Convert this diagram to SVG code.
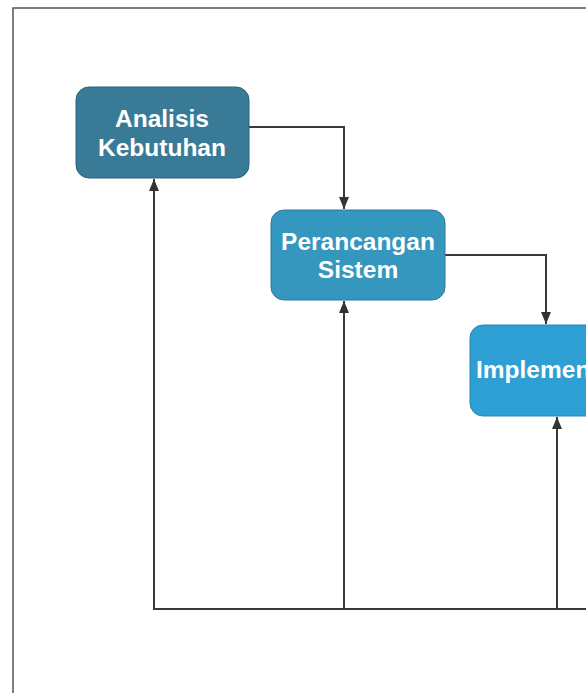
<svg xmlns="http://www.w3.org/2000/svg" width="586" height="693" viewBox="0 0 586 693">
<defs>
<marker id="ah" viewBox="0 0 12 10" refX="12" refY="5" markerWidth="12" markerHeight="10" markerUnits="userSpaceOnUse" orient="auto">
<path d="M0,0 L12,5 L0,10 z" fill="#333"/>
</marker>
<style>
.lbl{font-family:"Liberation Sans",Arial,sans-serif;font-weight:bold;font-size:24.5px;fill:#fff;text-anchor:middle}
.con{fill:none;stroke:#3a3a3a;stroke-width:2}
</style>
</defs>
<rect width="586" height="693" fill="#fff"/>
<path d="M13,693 V8 H586" fill="none" stroke="#555" stroke-width="1.5"/>
<g id="connectors">
<path class="con" d="M249,127 H344 V209" marker-end="url(#ah)"/>
<path class="con" d="M445,255 H546 V324" marker-end="url(#ah)"/>
<path class="con" d="M586,609 H154 V179" marker-end="url(#ah)"/>
<path class="con" d="M344,609 V301" marker-end="url(#ah)"/>
<path class="con" d="M557,609 V417" marker-end="url(#ah)"/>
</g>
<g id="analisis">
<rect x="76" y="87" width="173" height="91" rx="13" fill="#397b96" stroke="#2d6378" stroke-width="1"/>
<text class="lbl" x="162" y="127">Analisis</text>
<text class="lbl" x="162" y="156">Kebutuhan</text>
</g>
<g id="perancangan">
<rect x="271" y="210" width="174" height="90" rx="13" fill="#3596be" stroke="#2a7aa0" stroke-width="1"/>
<text class="lbl" x="358" y="250">Perancangan</text>
<text class="lbl" x="358" y="278">Sistem</text>
</g>
<g id="implementasi">
<rect x="470" y="325" width="170" height="91" rx="13" fill="#2e9fd4" stroke="#2785b3" stroke-width="1"/>
<text class="lbl" x="476" y="378" style="text-anchor:start">Implementasi</text>
</g>
</svg>
